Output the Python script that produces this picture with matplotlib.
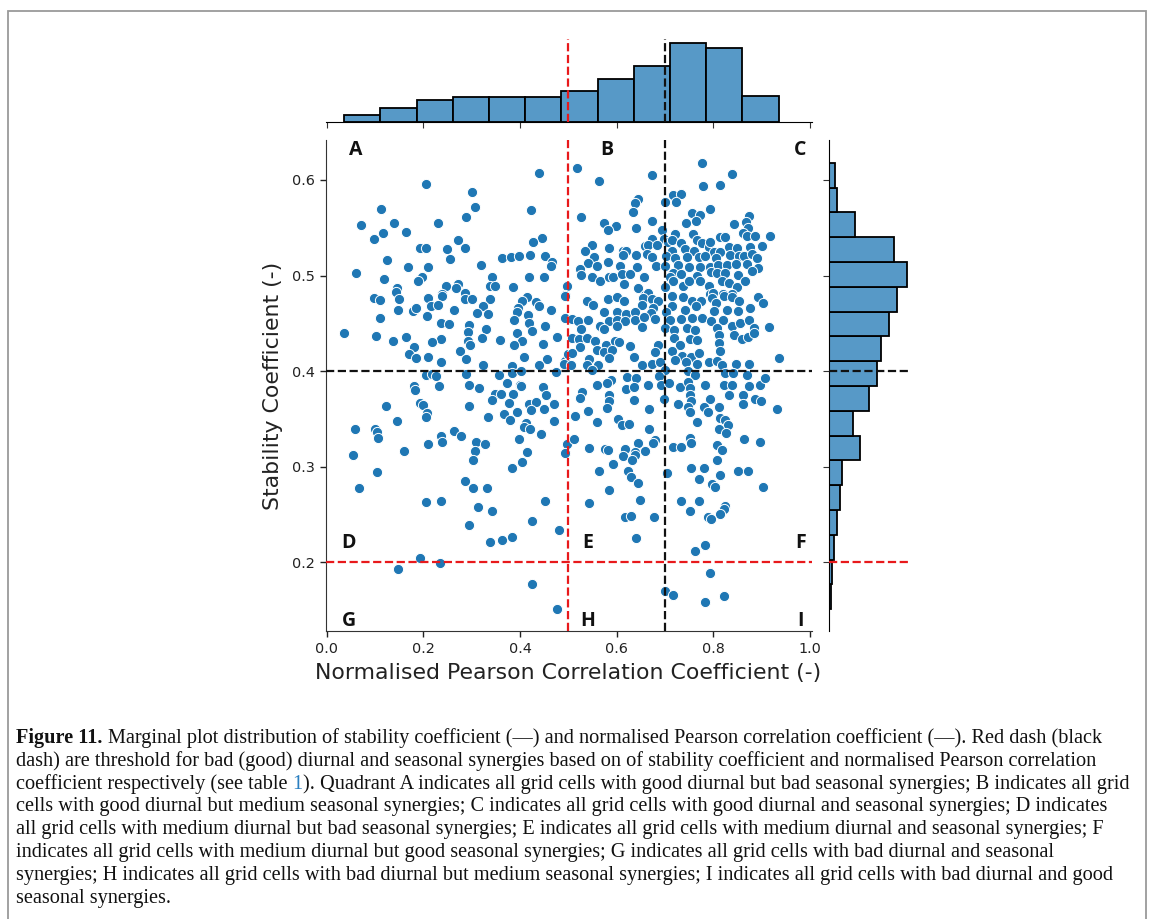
import matplotlib
matplotlib.use("Agg")
import matplotlib.pyplot as plt
from matplotlib.patches import Rectangle
import numpy as np

# ---------------- data ----------------
pearson_upper_left = [0.439,0.206,0.301,0.307,0.113,0.423,0.288,0.071,0.139,0.230,0.116,0.164,0.097,0.272,0.445,0.426,0.193,0.206,0.249,0.286,0.421,0.125,0.255,0.363,0.381,0.398,0.452,0.467,0.464,0.319,0.169,0.209,0.060,0.118,0.197,0.188,0.341,0.338,0.348,0.419,0.449,0.498,0.146,0.143,0.246,0.272,0.267,0.385,0.287,0.239,0.492]
stability_upper_left = [0.607,0.596,0.587,0.572,0.570,0.569,0.561,0.553,0.555,0.555,0.544,0.546,0.538,0.537,0.539,0.535,0.529,0.529,0.528,0.529,0.521,0.516,0.517,0.518,0.519,0.520,0.520,0.514,0.510,0.511,0.509,0.509,0.503,0.496,0.499,0.494,0.498,0.489,0.489,0.498,0.499,0.489,0.487,0.483,0.489,0.491,0.487,0.488,0.482,0.481,0.480]

pearson_upper_right = [0.518,0.776,0.674,0.838,0.564,0.779,0.813,0.717,0.734,0.723,0.643,0.638,0.699,0.794,0.634,0.527,0.756,0.773,0.874,0.574,0.598,0.581,0.639,0.674,0.694,0.744,0.763,0.843,0.868,0.872,0.720,0.758,0.861,0.870,0.887,0.918,0.767,0.814,0.824,0.674,0.697,0.706,0.715,0.548,0.534,0.585,0.612,0.620,0.658,0.665,0.683,0.732,0.742,0.776,0.791,0.794,0.832,0.848,0.876,0.900,0.714,0.759,0.802,0.814,0.835,0.854,0.863,0.880,0.552,0.612,0.639,0.663,0.672,0.701,0.721,0.745,0.770,0.782,0.805,0.890,0.540,0.559,0.582,0.607,0.642,0.681,0.700,0.727,0.749,0.772,0.792,0.810,0.828,0.847,0.869,0.892,0.525,0.527,0.549,0.565,0.583,0.593,0.611,0.627,0.616,0.656,0.717,0.710,0.732,0.766,0.795,0.808,0.823,0.850,0.879,0.716,0.738,0.750,0.772,0.790,0.817,0.832,0.848,0.865,0.644,0.699,0.659,0.664,0.793,0.799,0.819,0.838]
stability_upper_right = [0.613,0.618,0.605,0.606,0.599,0.594,0.595,0.584,0.585,0.577,0.580,0.576,0.577,0.570,0.566,0.561,0.565,0.563,0.562,0.555,0.552,0.548,0.550,0.557,0.548,0.555,0.557,0.554,0.556,0.550,0.543,0.543,0.544,0.541,0.541,0.541,0.537,0.540,0.540,0.538,0.538,0.535,0.537,0.532,0.526,0.529,0.526,0.526,0.531,0.532,0.532,0.534,0.528,0.534,0.530,0.535,0.530,0.529,0.530,0.531,0.526,0.526,0.525,0.525,0.522,0.520,0.520,0.523,0.519,0.521,0.522,0.523,0.519,0.520,0.518,0.519,0.519,0.520,0.518,0.518,0.513,0.510,0.514,0.510,0.509,0.510,0.510,0.511,0.509,0.509,0.509,0.511,0.511,0.512,0.512,0.508,0.507,0.501,0.499,0.494,0.499,0.499,0.502,0.502,0.491,0.499,0.503,0.498,0.502,0.500,0.504,0.503,0.503,0.501,0.505,0.494,0.489,0.494,0.494,0.489,0.494,0.492,0.488,0.494,0.487,0.488,0.480,0.482,0.481,0.482,0.481,0.481]

pearson_mid_left = [0.097,0.110,0.150,0.209,0.239,0.286,0.301,0.338,0.414,0.405,0.434,0.494,0.148,0.178,0.185,0.216,0.230,0.264,0.323,0.310,0.333,0.396,0.394,0.439,0.463,0.207,0.110,0.388,0.417,0.494,0.237,0.254,0.294,0.418,0.452,0.293,0.330,0.393,0.424,0.036,0.101,0.164,0.137,0.237,0.218,0.292,0.322,0.358,0.404,0.477,0.296,0.388,0.447,0.181,0.276,0.171,0.185,0.210,0.288,0.237,0.408,0.456,0.494,0.490,0.439,0.323,0.383,0.206,0.218,0.226,0.288,0.356,0.383,0.401,0.474,0.372,0.399,0.180,0.182,0.232,0.295,0.316,0.401,0.447,0.348,0.361,0.386,0.454,0.342,0.419,0.434,0.471,0.377,0.193,0.199,0.123,0.295,0.450,0.423,0.366,0.394,0.207,0.206,0.334,0.379,0.146,0.471,0.412,0.408,0.420,0.058,0.099,0.105,0.107,0.264,0.277,0.237,0.239,0.443,0.397,0.209,0.308,0.328,0.307,0.160,0.414,0.055,0.497,0.492]
stability_mid_left = [0.477,0.474,0.475,0.477,0.479,0.475,0.476,0.475,0.478,0.473,0.472,0.479,0.464,0.463,0.466,0.468,0.469,0.464,0.468,0.461,0.460,0.466,0.462,0.468,0.464,0.458,0.456,0.454,0.459,0.456,0.450,0.449,0.448,0.450,0.447,0.441,0.444,0.440,0.442,0.440,0.437,0.436,0.432,0.434,0.430,0.432,0.435,0.433,0.432,0.436,0.427,0.427,0.428,0.425,0.421,0.418,0.414,0.415,0.413,0.410,0.415,0.413,0.411,0.408,0.406,0.406,0.405,0.396,0.397,0.395,0.397,0.396,0.398,0.400,0.399,0.388,0.386,0.385,0.380,0.384,0.386,0.382,0.384,0.383,0.376,0.376,0.376,0.375,0.370,0.366,0.368,0.366,0.367,0.367,0.365,0.364,0.364,0.360,0.359,0.355,0.357,0.356,0.352,0.352,0.349,0.348,0.348,0.346,0.342,0.339,0.339,0.340,0.336,0.330,0.337,0.332,0.332,0.326,0.334,0.329,0.324,0.326,0.324,0.317,0.316,0.315,0.312,0.324,0.314]

pearson_mid_right = [0.539,0.550,0.581,0.600,0.616,0.654,0.674,0.685,0.714,0.737,0.756,0.774,0.797,0.821,0.838,0.854,0.892,0.902,0.652,0.676,0.715,0.741,0.765,0.805,0.876,0.574,0.601,0.619,0.638,0.671,0.701,0.802,0.828,0.851,0.507,0.519,0.541,0.565,0.583,0.601,0.617,0.637,0.657,0.679,0.710,0.734,0.756,0.776,0.796,0.819,0.838,0.856,0.874,0.883,0.915,0.526,0.574,0.600,0.652,0.700,0.719,0.745,0.762,0.807,0.508,0.521,0.539,0.555,0.577,0.596,0.605,0.628,0.686,0.718,0.731,0.751,0.767,0.812,0.843,0.859,0.871,0.883,0.812,0.523,0.560,0.574,0.590,0.679,0.715,0.736,0.754,0.770,0.814,0.499,0.508,0.505,0.543,0.562,0.585,0.636,0.652,0.674,0.689,0.721,0.743,0.766,0.790,0.807,0.818,0.847,0.874,0.935,0.539,0.548,0.700,0.747,0.761,0.824,0.841,0.869,0.687,0.621,0.639,0.664,0.589,0.579,0.559,0.619,0.636,0.692,0.709,0.730,0.748,0.751,0.783,0.821,0.839,0.874,0.896,0.907,0.529,0.524,0.585,0.585,0.635,0.697,0.752,0.754,0.793,0.832,0.861,0.886,0.898,0.580,0.541,0.667,0.727,0.748,0.781,0.788,0.812,0.752,0.861,0.932,0.514,0.559,0.603,0.610,0.625,0.767,0.814,0.823,0.831,0.812,0.667,0.827,0.512,0.680,0.643,0.676,0.752,0.754,0.863,0.896,0.543,0.576,0.581,0.617,0.638,0.659,0.717,0.734,0.807,0.817]
stability_mid_right = [0.473,0.469,0.476,0.478,0.473,0.477,0.476,0.473,0.479,0.478,0.473,0.473,0.477,0.479,0.478,0.473,0.478,0.471,0.469,0.466,0.468,0.464,0.468,0.471,0.466,0.462,0.462,0.460,0.462,0.461,0.462,0.463,0.464,0.463,0.455,0.452,0.453,0.447,0.452,0.454,0.452,0.454,0.457,0.455,0.454,0.455,0.456,0.456,0.452,0.454,0.447,0.450,0.454,0.445,0.446,0.444,0.444,0.447,0.446,0.445,0.443,0.445,0.443,0.445,0.435,0.434,0.435,0.432,0.427,0.432,0.431,0.426,0.427,0.435,0.427,0.434,0.433,0.438,0.438,0.434,0.436,0.440,0.429,0.425,0.422,0.420,0.422,0.420,0.421,0.416,0.415,0.419,0.421,0.418,0.419,0.406,0.413,0.406,0.414,0.415,0.406,0.407,0.410,0.412,0.410,0.408,0.410,0.411,0.406,0.408,0.408,0.414,0.406,0.401,0.401,0.400,0.396,0.398,0.398,0.396,0.395,0.394,0.393,0.386,0.391,0.388,0.386,0.381,0.383,0.386,0.388,0.383,0.389,0.382,0.386,0.386,0.386,0.385,0.386,0.393,0.378,0.372,0.375,0.369,0.370,0.371,0.375,0.369,0.371,0.375,0.375,0.371,0.369,0.361,0.358,0.360,0.366,0.363,0.363,0.357,0.363,0.357,0.366,0.360,0.353,0.347,0.350,0.344,0.345,0.347,0.351,0.349,0.344,0.339,0.339,0.335,0.329,0.328,0.325,0.325,0.330,0.325,0.329,0.326,0.320,0.319,0.318,0.319,0.315,0.316,0.321,0.321,0.323,0.318]

pearson_low_left = [0.303,0.403,0.384,0.103,0.066,0.286,0.302,0.332,0.206,0.237,0.312,0.341,0.452,0.424,0.295,0.480,0.337,0.363,0.384,0.194,0.234,0.148,0.424,0.477]
stability_low_left = [0.307,0.305,0.299,0.294,0.278,0.285,0.278,0.278,0.263,0.264,0.258,0.254,0.264,0.243,0.239,0.234,0.221,0.223,0.227,0.205,0.199,0.193,0.177,0.151]

pearson_low_right = [0.614,0.638,0.631,0.807,0.593,0.564,0.623,0.630,0.644,0.583,0.703,0.753,0.781,0.814,0.770,0.797,0.803,0.850,0.871,0.903,0.543,0.649,0.732,0.770,0.752,0.824,0.821,0.814,0.617,0.630,0.678,0.788,0.796,0.639,0.761,0.783,0.794,0.699,0.716,0.821,0.783]
stability_low_right = [0.311,0.312,0.307,0.307,0.303,0.296,0.296,0.289,0.283,0.276,0.293,0.299,0.299,0.291,0.287,0.282,0.279,0.296,0.296,0.279,0.262,0.265,0.264,0.264,0.254,0.259,0.256,0.251,0.247,0.249,0.247,0.247,0.245,0.226,0.212,0.218,0.189,0.170,0.166,0.165,0.159]

# marginal histogram counts (many scatter points overlap)
pearson_hist_counts = [13, 25, 40, 45, 45, 44, 56, 76, 100, 141, 131, 47]          # 12 bins, left to right
stability_hist_counts = [3, 4, 8, 12, 15, 19, 43, 33, 56, 67, 72, 83, 94, 109, 91, 36, 11, 9]  # 18 bins, bottom to top

x_ticks = [0.0, 0.2, 0.4, 0.6, 0.8, 1.0]
y_ticks = [0.2, 0.3, 0.4, 0.5, 0.6]
pearson_thresholds = {"bad": 0.5, "good": 0.7}
stability_thresholds = {"bad": 0.2, "good": 0.4}
quadrant_labels = ["A", "B", "C", "D", "E", "F", "G", "H", "I"]
quadrant_x = [0.06, 0.58, 0.98, 0.045, 0.54, 0.98, 0.045, 0.54, 0.98]
quadrant_y = [0.631, 0.631, 0.631, 0.220, 0.220, 0.220, 0.139, 0.139, 0.139]

caption_lines = [
    "Marginal plot distribution of stability coefficient (\u2014) and normalised Pearson correlation coefficient (\u2014). Red dash (black",
    "dash) are threshold for bad (good) diurnal and seasonal synergies based on of stability coefficient and normalised Pearson correlation",
    None,
    "cells with good diurnal but medium seasonal synergies; C indicates all grid cells with good diurnal and seasonal synergies; D indicates",
    "all grid cells with medium diurnal but bad seasonal synergies; E indicates all grid cells with medium diurnal and seasonal synergies; F",
    "indicates all grid cells with medium diurnal but good seasonal synergies; G indicates all grid cells with bad diurnal and seasonal",
    "synergies; H indicates all grid cells with bad diurnal but medium seasonal synergies; I indicates all grid cells with bad diurnal and good",
    "seasonal synergies.",
]
caption_line3 = ["coefficient respectively (see table ", "1",
                 "). Quadrant A indicates all grid cells with good diurnal but bad seasonal synergies; B indicates all grid"]

pearson = np.array(pearson_upper_left + pearson_upper_right + pearson_mid_left +
                   pearson_mid_right + pearson_low_left + pearson_low_right)
stability = np.array(stability_upper_left + stability_upper_right + stability_mid_left +
                     stability_mid_right + stability_low_left + stability_low_right)

# ---------------- figure ----------------
W, H = 1153, 919
fig = plt.figure(figsize=(W / 100, H / 100), dpi=100)
plt.rcParams['font.family'] = ['DejaVu Sans']

def px_axes(left, top, right, bottom):
    return fig.add_axes([left / W, 1 - bottom / H, (right - left) / W, (bottom - top) / H])

ax = px_axes(326, 140, 812, 631)
ax_top = px_axes(326, 38.7, 812, 122.3)
ax_right = px_axes(828.7, 140, 911.3, 631)

blue = '#1f77b4'
ax.scatter(pearson, stability, s=54, color=blue, edgecolor='white', linewidth=0.7, zorder=3)
ax.set_xlim(-0.0015, 1.004)
ax.set_ylim(0.1282, 0.6418)
ax.set_xticks(x_ticks)
ax.set_yticks(y_ticks)
ax.tick_params(labelsize=10.4, length=4.5, width=1, colors='#222222', labelcolor='#222222')
for s in ['top', 'right']:
    ax.spines[s].set_visible(False)
for s in ['left', 'bottom']:
    ax.spines[s].set_color('#333333')
ax.set_xlabel("Normalised Pearson Correlation Coefficient (-)", fontsize=15.8, color='#222222')
ax.set_ylabel("Stability Coefficient (-)", fontsize=15.8, color='#222222')
ax.xaxis.set_label_coords(0.498, -0.066)
ax.yaxis.set_label_coords(-0.088, 0.50)

# marginal histograms (bin edges span the data range, heights)
hist_fill = (0.341, 0.600, 0.780)
x_edges = np.histogram_bin_edges(pearson, bins=len(pearson_hist_counts))
y_edges = np.histogram_bin_edges(stability, bins=len(stability_hist_counts))
ax_top.hist(x_edges[:-1], bins=x_edges, weights=pearson_hist_counts,
            color=hist_fill, edgecolor='black', linewidth=1.3)
ax_right.hist(y_edges[:-1], bins=y_edges, weights=stability_hist_counts, orientation='horizontal',
              color=hist_fill, edgecolor='black', linewidth=1.3)
ax_top.set_xlim(ax.get_xlim())
ax_right.set_ylim(ax.get_ylim())
ax_top.set_xticks(x_ticks)
ax_top.tick_params(axis='x', labelbottom=False, length=4.5, colors='#333333')
ax_top.tick_params(axis='y', left=False, labelleft=False)
for s in ['top', 'right', 'left']:
    ax_top.spines[s].set_visible(False)
ax_right.set_yticks(y_ticks)
ax_right.tick_params(axis='y', labelleft=False, length=4.5, colors='#333333')
ax_right.tick_params(axis='x', bottom=False, labelbottom=False)
for s in ['top', 'right', 'bottom']:
    ax_right.spines[s].set_visible(False)

# threshold lines
dash = dict(linestyle='--', linewidth=1.6, zorder=4)
for a in (ax, ax_top):
    a.axvline(pearson_thresholds["bad"], color='#e8191b', **dash)
    a.axvline(pearson_thresholds["good"], color='#111111', **dash)
for a in (ax, ax_right):
    a.axhline(stability_thresholds["good"], color='#111111', **dash)
    a.axhline(stability_thresholds["bad"], color='#e8191b', **dash)

for lab, qx, qy in zip(quadrant_labels, quadrant_x, quadrant_y):
    ax.text(qx, qy, lab, fontsize=14, fontweight='bold', family='Open Sans',
            ha='center', va='center', color='#111111', zorder=5)

# caption
serif = 'Liberation Serif'
cap_size = 14.6
line_y = [738.3, 761.2, 784.1, 807.0, 829.9, 852.8, 875.7, 898.6]
cap_x = 16 / W
t0 = fig.text(cap_x, 1 - line_y[0] / H, "Figure 11. ", family=serif, fontsize=cap_size,
              fontweight='bold', va='center', color='#111111')
plt.annotate(caption_lines[0], xy=(1, 0), xycoords=t0, va='bottom', ha='left',
             family=serif, fontsize=cap_size, color='#111111', annotation_clip=False)
for i in (1, 3, 4, 5, 6, 7):
    fig.text(cap_x, 1 - line_y[i] / H, caption_lines[i], family=serif, fontsize=cap_size,
             va='center', color='#111111')
p1 = fig.text(cap_x, 1 - line_y[2] / H, caption_line3[0], family=serif, fontsize=cap_size,
              va='center', color='#111111')
p2 = plt.annotate(caption_line3[1], xy=(1, 0), xycoords=p1, va='bottom', ha='left',
                  family=serif, fontsize=cap_size, color='#2a7fc0', annotation_clip=False)
plt.annotate(caption_line3[2], xy=(1, 0), xycoords=p2, va='bottom', ha='left',
             family=serif, fontsize=cap_size, color='#111111', annotation_clip=False)

# frame around the figure
fig.patches.append(Rectangle((8 / W, -0.02), (1146 - 8) / W, 1 - 11 / H + 0.02,
                             transform=fig.transFigure, fill=False, edgecolor='#9a9a9a',
                             linewidth=1.3))

fig.savefig("out.png", dpi=100)
